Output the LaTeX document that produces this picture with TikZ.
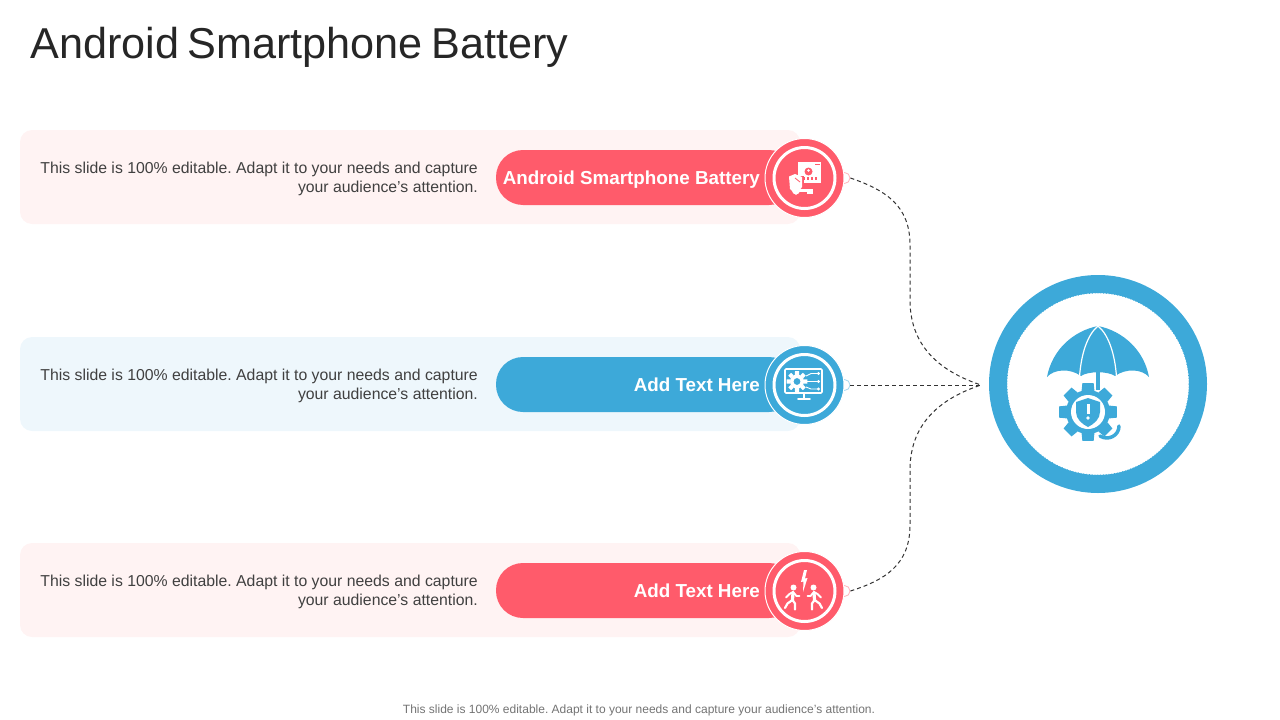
\documentclass[tikz,border=0pt]{standalone}
\usepackage{fontspec}
\setmainfont{Liberation Sans}
\usepackage{tikz}
\usetikzlibrary{positioning}
\usetikzlibrary{calc}
\definecolor{coral}{HTML}{FF5B6B}
\definecolor{sky}{HTML}{3DA9D9}
\definecolor{coralpale}{HTML}{FFF3F3}
\definecolor{skypale}{HTML}{EEF7FC}
\definecolor{inkdark}{HTML}{262626}
\definecolor{inkbody}{HTML}{404040}
\tikzstyle{card}=[rounded corners=12pt,minimum width=780pt,minimum height=94pt,inner sep=0pt]
\tikzstyle{pill}=[rounded corners=27pt,minimum width=300pt,minimum height=55pt,inner sep=0pt]
\tikzstyle{tip}=[circle,fill=white,line width=0.8pt,minimum size=11pt,inner sep=0pt]
\tikzstyle{badge}=[circle,draw=white,line width=1pt,minimum size=79pt,inner sep=0pt]
\tikzstyle{ring}=[draw=white,line width=3pt]
\tikzstyle{blurb}=[anchor=east,align=right,inner sep=0pt,text=inkbody,font=\fontsize{15.8}{19}\selectfont]
\tikzstyle{tag}=[anchor=base east,inner sep=0pt,text=white,font=\bfseries\fontsize{18.8}{23}\selectfont]
\tikzstyle{link}=[draw=black!80,line width=1pt,dash pattern=on 4pt off 3pt]
\tikzstyle{stroke}=[draw=white,line width=1.6pt,line cap=round,line join=round]
\newcommand{\cogwheel}[5]{% cx, cy, body radius, tooth radius, colour
  \foreach \a in {0,45,...,315}
    \fill[#5] ($(#1,#2)+(\a-11:#4)$) -- ($(#1,#2)+(\a+11:#4)$) -- ($(#1,#2)+(\a+17:#3)$) -- ($(#1,#2)+(\a-17:#3)$) -- cycle;
  \fill[#5] (#1,#2) circle (#3);
}
\frenchspacing
\begin{document}
\begin{tikzpicture}[x=1pt,y=-1pt]
  \useasboundingbox (0,0) rectangle (1280,720);

  \node[anchor=base west,inner sep=0pt,text=inkdark,font=\fontsize{43.2}{50}\selectfont] (title) at (30,58) {\spaceskip=8.5pt\relax Android Smartphone Battery};

  % rows
  \foreach \y/\name/\col/\pale/\label in {177/one/coral/coralpale/Android Smartphone Battery, 384/two/sky/skypale/Add Text Here, 590/three/coral/coralpale/Add Text Here}
  {
    \node[card,fill=\pale] (card\name) at (410,\y) {};
    \node[tip,draw=\col!45] (tip\name) at (844.5,\y+1) {};
    \node[pill,fill=\col] (pill\name) at (646,\y+0.5) {};
    \node[badge,fill=\col] (badge\name) at (804.5,\y+1) {};
    \draw[ring] (badge\name.center) circle (30.5);
    \node[blurb] (blurb\name) at (478,\y+1.5) {This slide is 100\% editable. Adapt it to your needs and capture\\your audience's attention.};
    \node[tag] (tag\name) at (760,\y+7) {\label};
  }

  % icon one
  \fill[white] (798,162) rectangle (821,183);
  \fill[coral] (815,163.5) rectangle (819.5,165);
  \fill[coral] (808.5,171.5) circle (4);
  \fill[white] (808.5,170.5) circle (1.4);
  \foreach \x in {804,808,812,816}
    \fill[coral] (\x-1.4,176.5) rectangle (\x+1.4,179.5);
  \fill[coral] (786.5,176) rectangle (803.5,197);
  \fill[white] (789,176.5) -- (795,174) -- (802,177) -- (802,187) -- (796,195) -- (790,189) -- cycle;
  \draw[coral,line width=0.8pt] (795,178) -- (800,182);
  \draw[white,line width=2.6pt] (794,190.5) -- (812.5,190.5);
  \fill[white] (796,190.5) circle (4);
  \fill[white] (807,190) rectangle (812.5,194);

  % icon two
  \draw[stroke,rounded corners=1pt] (785,369) rectangle (822,393);
  \draw[stroke] (804,393) -- (804,398);
  \draw[stroke] (798,399) -- (810,399);
  \cogwheel{797}{381.5}{7}{10.5}{white}
  \fill[sky] (797,381.5) circle (3.4);
  \foreach \y/\yy in {376/373.5,381.5/381.5,387/389}
  {
    \draw[white,line width=0.9pt] (806,\y) -- (811,\yy) -- (818,\yy);
    \fill[white] (818.5,\yy) circle (1.7);
  }

  % icon three
  \fill[white] (804,570) -- (801,582) -- (803.5,581.5) -- (803,592) -- (807.5,578) -- (805,578.5) -- (807,570) -- cycle;
  \foreach \m/\c in {1/793.5,-1/813.5}
  {
    \begin{scope}[shift={(\c,0)},xscale=\m]
      \fill[white] (0,587.5) circle (3);
      \draw[stroke,line width=3.2pt] (-0.5,592.5) -- (-1,600);
      \draw[stroke,line width=1.9pt] (-0.5,592) -- (3,596) -- (6,596);
      \draw[stroke,line width=1.9pt] (-0.5,592) -- (-4,594) -- (-7.5,597.5);
      \draw[stroke,line width=2.2pt] (-1,600) -- (-6,603.5) -- (-8.5,608);
      \draw[stroke,line width=2.2pt] (-1,600) -- (1.5,603.5) -- (1.5,609.5);
    \end{scope}
  }

  % hub
  \node[circle,draw=sky,line width=18pt,minimum size=200pt,inner sep=0pt] (hub) at (1098,384) {};
  \draw[sky,line width=0.8pt,dotted] (hub.center) circle (91);
  \fill[sky] (1047,377) .. controls (1052,350) and (1073,331) .. (1098,326) .. controls (1123,331) and (1144,350) .. (1149,377)
    .. controls (1142,369) and (1126,368) .. (1115,376) .. controls (1108,371) and (1088,371) .. (1081,376) .. controls (1070,368) and (1054,369) .. (1047,377) -- cycle;
  \draw[white,line width=1.2pt] (1098,326) .. controls (1087,335) and (1081,355) .. (1079.5,377);
  \draw[white,line width=1.2pt] (1098,326) .. controls (1109,335) and (1115,355) .. (1116.5,377);
  \fill[sky] (1096,371) rectangle (1100,390);
  \cogwheel{1088}{412}{22}{29.5}{sky}
  \fill[white] (1088,412) circle (17);
  \fill[sky] (1076,402) -- (1088,398) -- (1100,402) -- (1100,412) .. controls (1100,419) and (1094,424) .. (1088,427) .. controls (1082,424) and (1076,419) .. (1076,412) -- cycle;
  \fill[white] (1086.5,404) rectangle (1089.5,414);
  \fill[white] (1088,418) circle (1.8);
  \draw[sky,line width=3.5pt,line cap=round] (1119,426) .. controls (1119,436) and (1108,441) .. (1100,436);

  % connectors
  \coordinate (meet) at (981,385);
  \draw[link] (tipone.east) .. controls (885,190) and (910,205) .. (910,245) -- (910,300) .. controls (910,350) and (945,373) .. (meet);
  \draw[link] (tiptwo.east) -- (meet);
  \draw[link] (tipthree.east) .. controls (885,580) and (910,565) .. (910,525) -- (910,470) .. controls (910,420) and (945,397) .. (meet);

  \node[anchor=base,inner sep=0pt,text=black!55,font=\fontsize{12}{14}\selectfont] (footer) at (639,713) {This slide is 100\% editable. Adapt it to your needs and capture your audience's attention.};
\end{tikzpicture}
\end{document}
